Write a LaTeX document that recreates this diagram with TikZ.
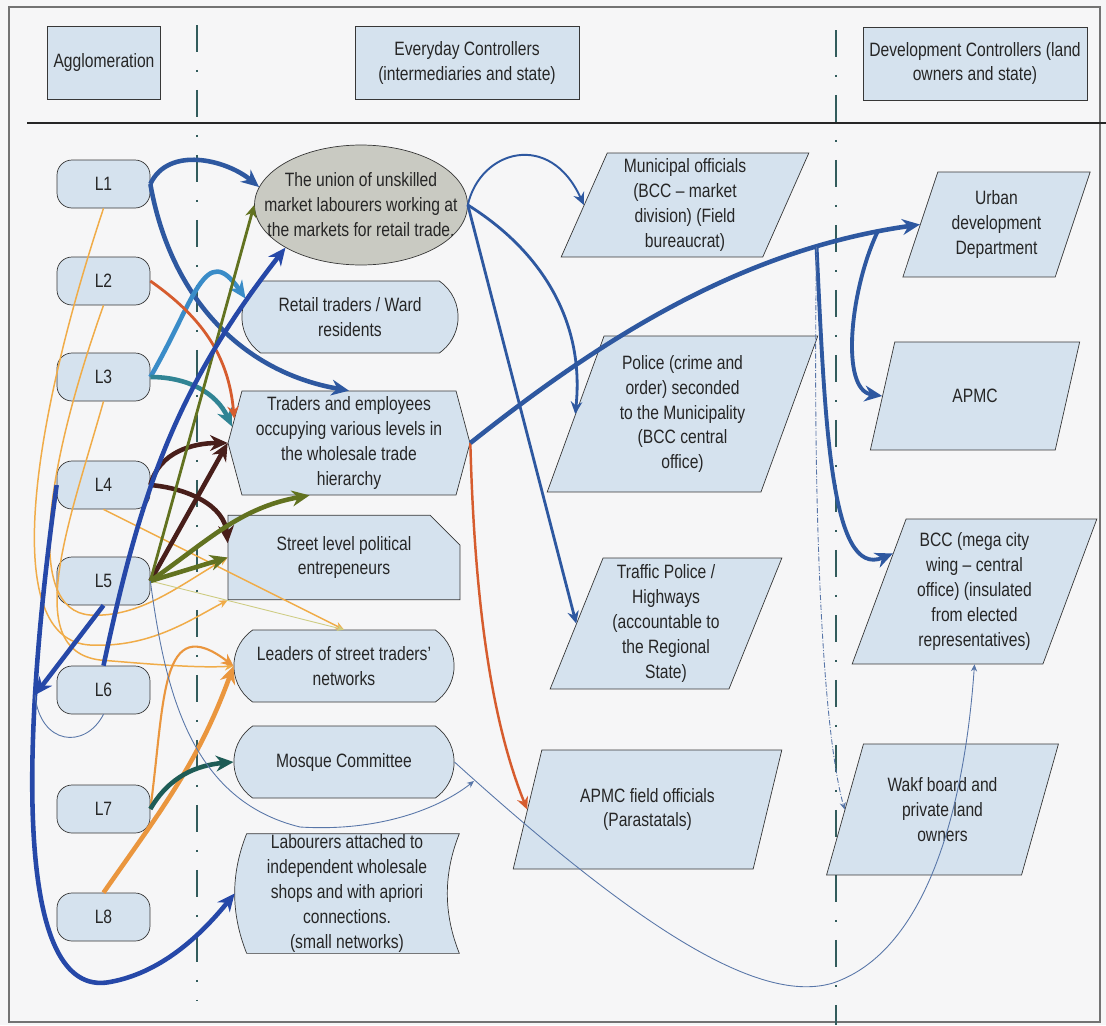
\documentclass[tikz,border=0pt]{standalone}
\usepackage{fontspec}
\setmainfont{Liberation Sans}[FakeStretch=0.81]
\usetikzlibrary{shapes.geometric,shapes.misc,shapes.symbols,arrows.meta,calc}
\pgfdeclarelayer{background}
\pgfsetlayers{background,main}
\definecolor{pagebg}{RGB}{246,246,247}
\definecolor{boxfill}{RGB}{213,226,238}
\definecolor{ellfill}{RGB}{201,202,194}
\definecolor{boxline}{RGB}{55,55,55}
\definecolor{divcol}{RGB}{50,92,92}
\definecolor{cblue}{RGB}{46,88,160}
\definecolor{cnavy}{RGB}{38,72,168}
\definecolor{clight}{RGB}{58,140,200}
\definecolor{cteal}{RGB}{48,132,148}
\definecolor{cred}{RGB}{214,92,46}
\definecolor{corange}{RGB}{240,172,72}
\definecolor{cpeach}{RGB}{234,150,62}
\definecolor{colive}{RGB}{98,114,32}
\definecolor{cbrown}{RGB}{72,30,26}
\definecolor{cdteal}{RGB}{30,92,86}
\definecolor{cpale}{RGB}{206,204,130}
\definecolor{cthin}{RGB}{88,118,168}

\begin{document}
\begin{tikzpicture}[x=0.02cm, y=-0.02cm, font=\fontsize{11}{14.2}\selectfont,
	every node/.style={align=center, text=black!85},
	headbox/.style={draw=boxline, fill=boxfill, minimum height=1.46cm},
	lbox/.style={draw=boxline, fill=boxfill, rounded corners=0.3cm, minimum width=1.86cm, minimum height=0.96cm},
	roundbox/.style={rounded rectangle, rounded rectangle arc length=110, draw=boxline, fill=boxfill, minimum width=4.64cm, minimum height=1.44cm},
	parabox/.style={trapezium, trapezium left angle=69, trapezium right angle=111, trapezium stretches=true, draw=boxline, fill=boxfill, inner sep=2pt},
	divider/.style={divcol, line width=1.1pt, dash pattern=on 0.54cm off 0.36cm on 0.04cm off 0.36cm},
	wide/.style={line width=2.6pt, -{Stealth[length=10pt, width=9pt]}},
	mid/.style={line width=1.6pt, -{Stealth[length=7pt, width=6.5pt]}},
	fine/.style={line width=0.85pt, -{Stealth[length=5pt, width=4.5pt]}},
	hair/.style={line width=0.5pt, -{Stealth[length=4pt, width=3.5pt]}}]
	\useasboundingbox (0,0) rectangle (1106,1025);
	\draw[boxline!70, line width=0.8pt] (9,7) rectangle (1100,1022);
	\draw[divider] (197,25) -- (197,1000);
	\draw[divider] (836,30) -- (836,1025);
	\draw[black!85, line width=1.7pt] (27,123) -- (1106,123);

	\node[headbox, minimum width=2.24cm] (agg) at (104,62.5) {Agglomeration};
	\node[headbox, minimum width=4.48cm] (every) at (467,63) {Everyday Controllers\\(intermediaries and state)};
	\node[headbox, minimum width=4.48cm] (devel) at (975,63.5) {Development Controllers (land\\owners and state)};

	\foreach \i/\y in {1/184,2/281,3/377,4/485,5/581,6/690,7/809,8/917}
		\node[lbox] (l\i) at (103.5,\y) {L\i};

	\node[ellipse, draw=boxline, fill=ellfill, minimum width=4.26cm, minimum height=2.4cm, inner xsep=-0.6cm, inner ysep=0pt] (union) at (361,205) {The union of unskilled\\market labourers working at\\the markets for retail trade.};
	\node[roundbox, minimum width=4.56cm] (retail) at (350,317) {Retail traders / Ward\\residents};
	\node[signal, signal to=east and west, signal pointer angle=150, draw=boxline, fill=boxfill, minimum width=4.84cm, minimum height=2.08cm, inner sep=2pt] (hier) at (349,443) {Traders and employees\\occupying various levels in\\the wholesale trade\\hierarchy};
	\node[chamfered rectangle, chamfered rectangle corners=north east, chamfered rectangle xsep=0.3cm, chamfered rectangle ysep=0.3cm, draw=boxline, fill=boxfill, minimum width=4.64cm, minimum height=1.42cm] (street) at (344,557.5) {Street level political\\entrepeneurs};
	\node[roundbox] (leaders) at (344,666) {Leaders of street traders'\\networks};
	\node[roundbox] (mosque) at (344,762) {Mosque Committee};
	\node[minimum width=4.48cm, minimum height=2.38cm, inner sep=0pt] (lab) at (347,893.5) {Labourers attached to\\independent wholesale\\shops and with apriori\\connections.\\(small networks)};

	\node[parabox, minimum width=4.96cm, minimum height=2.08cm] (muni) at (685,205) {Municipal officials\\(BCC – market\\division) (Field\\bureaucrat)};
	\node[parabox, minimum width=5.42cm, minimum height=3.12cm] (police) at (682.5,414) {Police (crime and\\order) seconded\\to the Municipality\\(BCC central\\office)};
	\node[parabox, minimum width=4.64cm, minimum height=2.62cm] (traffic) at (666,623.5) {Traffic Police /\\Highways\\(accountable to\\the Regional\\State)};
	\node[parabox, minimum width=5.38cm, minimum height=2.38cm] (apmcf) at (647.5,809.5) {APMC field officials\\(Parastatals)};
	\node[parabox, minimum width=3.78cm, minimum height=2.1cm] (urban) at (996.5,224.5) {Urban\\development\\Department};
	\node[parabox, minimum width=4.2cm, minimum height=2.16cm] (apmc) at (975,396) {APMC};
	\node[parabox, minimum width=4.9cm, minimum height=2.9cm] (bcc) at (974.5,591.5) {BCC (mega city\\wing – central\\office) (insulated\\from elected\\representatives)};
	\node[parabox, minimum width=4.66cm, minimum height=2.62cm] (wakf) at (942.5,809.5) {Wakf board and\\private land\\owners};

	\begin{pgfonlayer}{background}
		\fill[pagebg] (0,0) rectangle (1106,1025);
		\draw[boxline, fill=boxfill] ($(lab.north west)+(12,0)$) -- (lab.north east) .. controls +(-16,40) and +(-16,-40) .. (lab.south east) -- ($(lab.south west)+(12,0)$) .. controls +(-16,-40) and +(-16,40) .. cycle;
	\end{pgfonlayer}

	\draw[fine, corange] (l1.south) .. controls (30,430) and (0,640) .. (90,645) .. controls (150,648) and (190,620) .. (street.south west);
	\draw[fine, corange] (l2.south) .. controls (45,470) and (25,610) .. (90,615) .. controls (140,618) and (180,585) .. (street.west);
	\draw[fine, corange] (l3.south) .. controls (70,520) and (20,650) .. (100,660) .. controls (160,665) and (200,668) .. (leaders.west);
	\draw[mid, cpeach, line width=1.2pt] (l7.east) .. controls (165,700) and (160,610) .. (leaders.west);
	\path[fine, corange] (l4.south) edge (leaders.north);
	\path[hair, cpale] (l5.east) edge (leaders.north);
	\draw[wide, cpeach] (l8.north) to[out=55, in=250] (leaders.west);

	\draw[wide, cblue] (l1.east) to[out=65, in=140] (union.170);
	\draw[wide, cblue] (l1.east) to[out=-80, in=170] (hier.north);
	\draw[wide, clight] (l3.east) .. controls (195,300) and (205,240) .. (retail.170);
	\draw[wide, cteal] (l3.east) to[out=0, in=115] (hier.172);
	\draw[mid, cred] (l2.east) to[out=-35, in=95] (hier.168);
	\draw[wide, cbrown] (l4.east) to[out=75, in=180] (hier.west);
	\draw[wide, cbrown] (l4.east) to[out=-5, in=95] (street.173);
	\path[wide, cbrown] (l5.east) edge (hier.west);
	\path[mid, colive] (l5.east) edge (union.west);
	\draw[wide, colive] (l5.east) to[out=35, in=190] (hier.233);
	\path[wide, colive] (l5.east) edge (street.west);
	\draw[wide, cnavy] (l6.north) to[out=78, in=232] (union.south west);
	\coordinate (hook) at (35,695);
	\path[wide, cnavy] (l5.south) edge (hook);
	\draw[wide, cnavy] (l4.west) .. controls (20,750) and (15,1000) .. (110,982) .. controls (165,972) and (205,930) .. (lab.west);
	\draw[wide, cdteal] (l7.east) to[out=60, in=185] (mosque.west);
	\draw[cthin, line width=0.5pt] (l6.south) .. controls (85,750) and (40,745) .. (hook);
	\coordinate (mq) at (474,781);
	\draw[hair, cthin] (l5.east) .. controls (165,690) and (190,800) .. (300,827) .. controls (380,832) and (440,808) .. (mq);

	\draw[mid, cblue, line width=1.1pt] (union.east) .. controls (480,150) and (550,130) .. (muni.left side);
	\draw[mid, cblue] (union.east) .. controls (540,250) and (585,320) .. (police.left side);
	\path[mid, cblue] (union.east) edge (traffic.left side);
	\draw[mid, cred, line width=1.4pt] (hier.east) .. controls (475,620) and (495,730) .. (apmcf.left side);
	\draw[wide, cblue] (hier.east) .. controls (600,340) and (740,250) .. (urban.left side) coordinate[pos=0.8] (j1) coordinate[pos=0.92] (j2);
	\draw[wide, cblue, line width=2.2pt] (j2) .. controls (850,290) and (840,390) .. (apmc.left side);
	\draw[wide, cblue, line width=2.2pt] (j1) .. controls (825,420) and (830,580) .. (bcc.155);
	\draw[hair, cthin, densely dash dot] (j1) .. controls (812,550) and (825,740) .. (wakf.left side);
	\draw[hair, cthin] (mosque.east) .. controls (640,930) and (760,1005) .. (833,983) .. controls (930,950) and (965,800) .. (bcc.270);
\end{tikzpicture}
\end{document}
